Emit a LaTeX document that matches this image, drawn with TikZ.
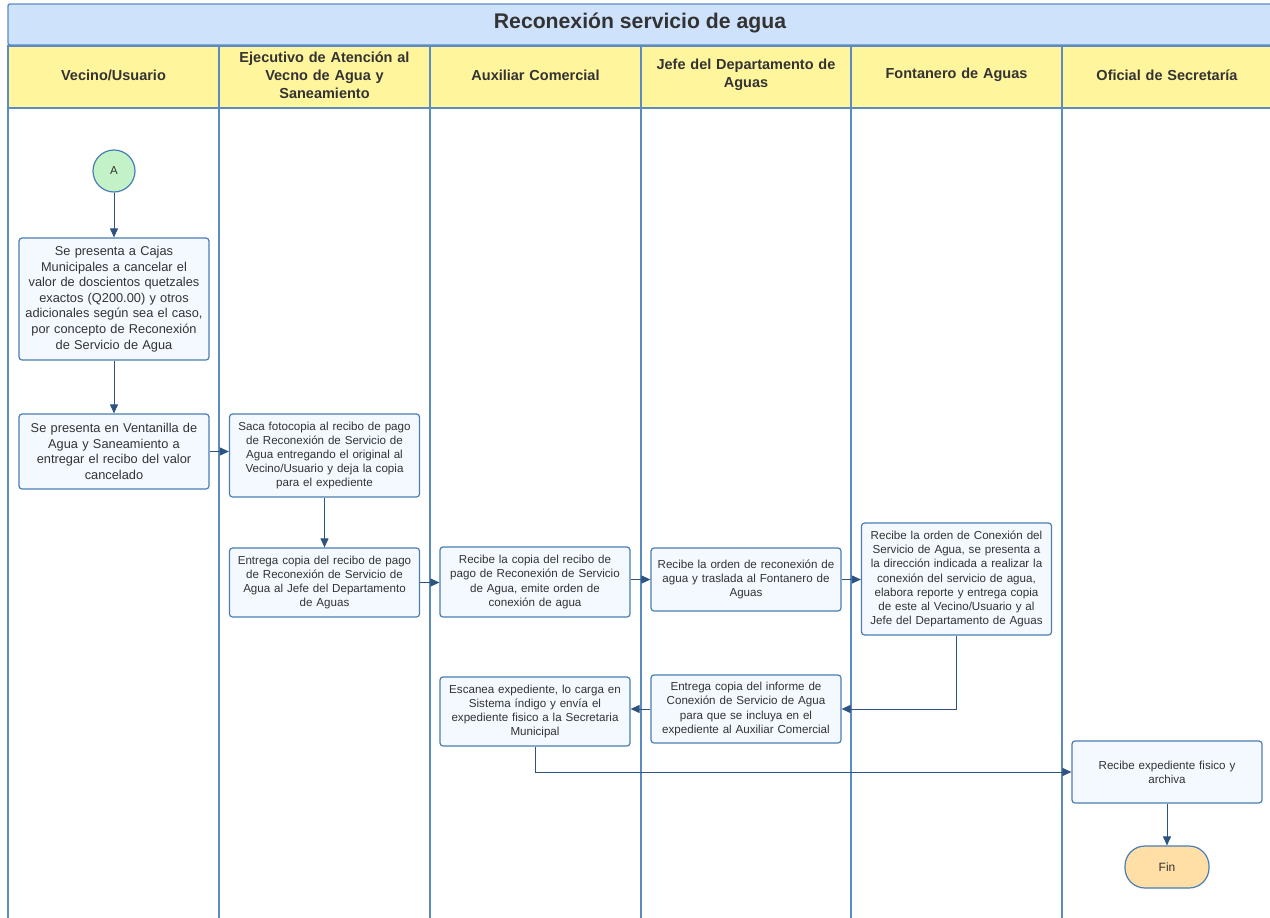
\documentclass[tikz,border=0pt]{standalone}
\usepackage{fontspec}
\setmainfont{Liberation Sans}
\usetikzlibrary{arrows.meta}
\definecolor{lane}{HTML}{5B8BC0}
\definecolor{titlefill}{HTML}{CFE2FB}
\definecolor{headfill}{HTML}{FFF59D}
\definecolor{boxfill}{HTML}{F4F9FF}
\definecolor{boxline}{HTML}{4A7DB3}
\definecolor{arrowc}{HTML}{2D5480}
\definecolor{txt}{HTML}{333333}
\definecolor{startfill}{HTML}{C3F2C9}
\definecolor{endfill}{HTML}{FFDFA6}
\begin{document}
\begin{tikzpicture}[x=1pt,y=-1pt,
  lanel/.style={draw=lane,line width=1.4pt},
  headcell/.style={draw=lane,line width=1.4pt,fill=headfill},
  headtxt/.style={text=txt,font=\bfseries\fontsize{14.5}{18}\selectfont,align=center,text width=200pt},
  proc/.style={draw=boxline,line width=1.2pt,fill=boxfill,rounded corners=3pt,align=center,text=txt,inner sep=2pt,minimum width=190pt,text width=186pt,font=\fontsize{11.6}{14.2}\selectfont},
  arr/.style={draw=arrowc,line width=1pt,-{Triangle[length=9pt,width=8pt]}},
  plain/.style={draw=arrowc,line width=1pt}]
\useasboundingbox (0,0) rectangle (1270,918);
\fill[white] (0,0) rectangle (1270,918);
% title
\draw[draw=lane,line width=1.4pt,fill=titlefill,rounded corners=2pt] (8,4) rectangle (1280,45);
\node[text=txt,font=\bfseries\fontsize{21.2}{24}\selectfont] (title) at (640,23) {Reconexión servicio de agua};
% header cells
\foreach \x in {8,219,430,641,851,1062} {\draw[headcell] (\x,46) rectangle ++(211,62);}
% lanes
\foreach \x in {8,219,430,641,851,1062,1273} {\draw[lanel] (\x,108) -- (\x,925);}
\node[headtxt] (h1) at (113.5,75) {Vecino/Usuario};
\node[headtxt] (h2) at (324.5,75) {Ejecutivo de Atención al\\Vecno de Agua y\\Saneamiento};
\node[headtxt] (h3) at (535.5,75) {Auxiliar Comercial};
\node[headtxt] (h4) at (746,75) {Jefe del Departamento de\\Aguas};
\node[headtxt] (h5) at (956.5,75) {Fontanero de Aguas};
\node[headtxt] (h6) at (1167,75) {Oficial de Secretaría};
% nodes
\node[circle,draw=boxline,line width=1.2pt,fill=startfill,minimum size=42pt,inner sep=0pt,text=txt,font=\fontsize{11.5}{14}\selectfont] (A) at (114,171) {A};
\node[proc,minimum height=122pt,font=\fontsize{12.8}{15.6}\selectfont] (b1) at (114,299) {Se presenta a Cajas\\Municipales a cancelar el\\valor de doscientos quetzales\\exactos (Q200.00) y otros\\adicionales según sea el caso,\\por concepto de Reconexión\\de Servicio de Agua};
\node[proc,minimum height=75pt,font=\fontsize{12.8}{15.6}\selectfont] (b2) at (114,451.5) {Se presenta en Ventanilla de\\Agua y Saneamiento a\\entregar el recibo del valor\\cancelado};
\node[proc,minimum height=83pt] (b3) at (324.5,455.5) {Saca fotocopia al recibo de pago\\de Reconexión de Servicio de\\Agua entregando el original al\\Vecino/Usuario y deja la copia\\para el expediente};
\node[proc,minimum height=69pt] (b4) at (324.5,582.5) {Entrega copia del recibo de pago\\de Reconexión de Servicio de\\Agua al Jefe del Departamento\\de Aguas};
\node[proc,minimum height=70pt] (b5) at (535,582) {Recibe la copia del recibo de\\pago de Reconexión de Servicio\\de Agua, emite orden de\\conexión de agua};
\node[proc,minimum height=63pt] (b6) at (746,579.5) {Recibe la orden de reconexión de\\agua y traslada al Fontanero de\\Aguas};
\node[proc,minimum height=112pt] (b7) at (956.5,579) {Recibe la orden de Conexión del\\Servicio de Agua, se presenta a\\la dirección indicada a realizar la\\conexión del servicio de agua,\\elabora reporte y entrega copia\\de este al Vecino/Usuario y al\\Jefe del Departamento de Aguas};
\node[proc,minimum height=68pt] (b8) at (746,709) {Entrega copia del informe de\\Conexión de Servicio de Agua\\para que se incluya en el\\expediente al Auxiliar Comercial};
\node[proc,minimum height=69pt] (b9) at (535,711.5) {Escanea expediente, lo carga en\\Sistema índigo y envía el\\expediente fisico a la Secretaria\\Municipal};
\node[proc,minimum height=62pt] (b10) at (1167,772) {Recibe expediente fisico y\\archiva};
\node[draw=boxline,line width=1.2pt,fill=endfill,rounded corners=20pt,minimum width=84pt,minimum height=42pt,text=txt,font=\fontsize{12}{14}\selectfont] (fin) at (1167,867) {Fin};
% connectors
\draw[arr] (A) -- (b1);
\draw[arr] (b1) -- (b2);
\draw[arr] (b2.east) -- (b2.east -| b3.west);
\draw[arr] (b3) -- (b4);
\draw[arr] (b4.east) -- (b4.east -| b5.west);
\draw[arr] (b6.west -| b5.east) -- (b6.west);
\draw[arr] (b6.east) -- (b6.east -| b7.west);
\draw[arr] (b7.south) |- (b8.east);
\draw[arr] (b8.west) -- (b8.west -| b9.east);
\draw[arr] (b9.south) |- (b10.west);
\draw[arr] (b10) -- (fin);
\end{tikzpicture}
\end{document}
